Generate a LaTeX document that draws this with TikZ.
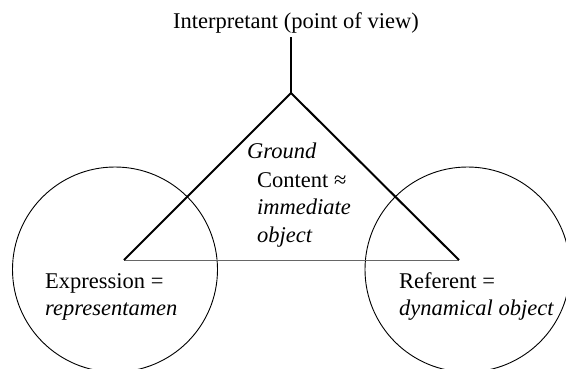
\documentclass[tikz,border=0pt]{standalone}
\usepackage{fontspec}
\setmainfont{Liberation Serif}
\begin{document}
\begin{tikzpicture}[x=1pt,y=-1pt,
  ring/.style={draw=black,line width=0.9pt,circle,minimum size=205pt,inner sep=0pt},
  side/.style={draw=black,line width=2pt},
  base/.style={draw=black!60,line width=1pt},
  lbl/.style={font=\fontsize{22.5}{27.5}\selectfont,inner sep=0pt,align=left}]
\useasboundingbox (0,0) rectangle (566,368);
\begin{scope}
\clip (0,0) rectangle (566,368);
\node[ring] (lc) at (115,269.5) {};
\node[ring] (rc) at (467.5,269.5) {};
\end{scope}
\coordinate (A) at (291,93);
\coordinate (L) at (124,260);
\coordinate (R) at (459,260);
\coordinate (T) at (291,37);
\draw[base] (L) -- (R);
\draw[side,line join=miter] (L) -- (A) -- (R);
\draw[side] (A) -- (T);
\node[lbl,anchor=base] (interp) at (296,28) {Interpretant (point of view)};
\node[lbl,anchor=base west] (ground) at (247,158) {\itshape Ground};
\node[lbl,anchor=base west] (content) at (257,242) {Content ≈\\\itshape immediate\\\itshape object};
\node[lbl,anchor=base west] (expr) at (45,315.5) {Expression =\\\itshape representamen};
\node[lbl,anchor=base west] (ref) at (399,315.5) {Referent =\\\itshape dynamical object};
\end{tikzpicture}
\end{document}
